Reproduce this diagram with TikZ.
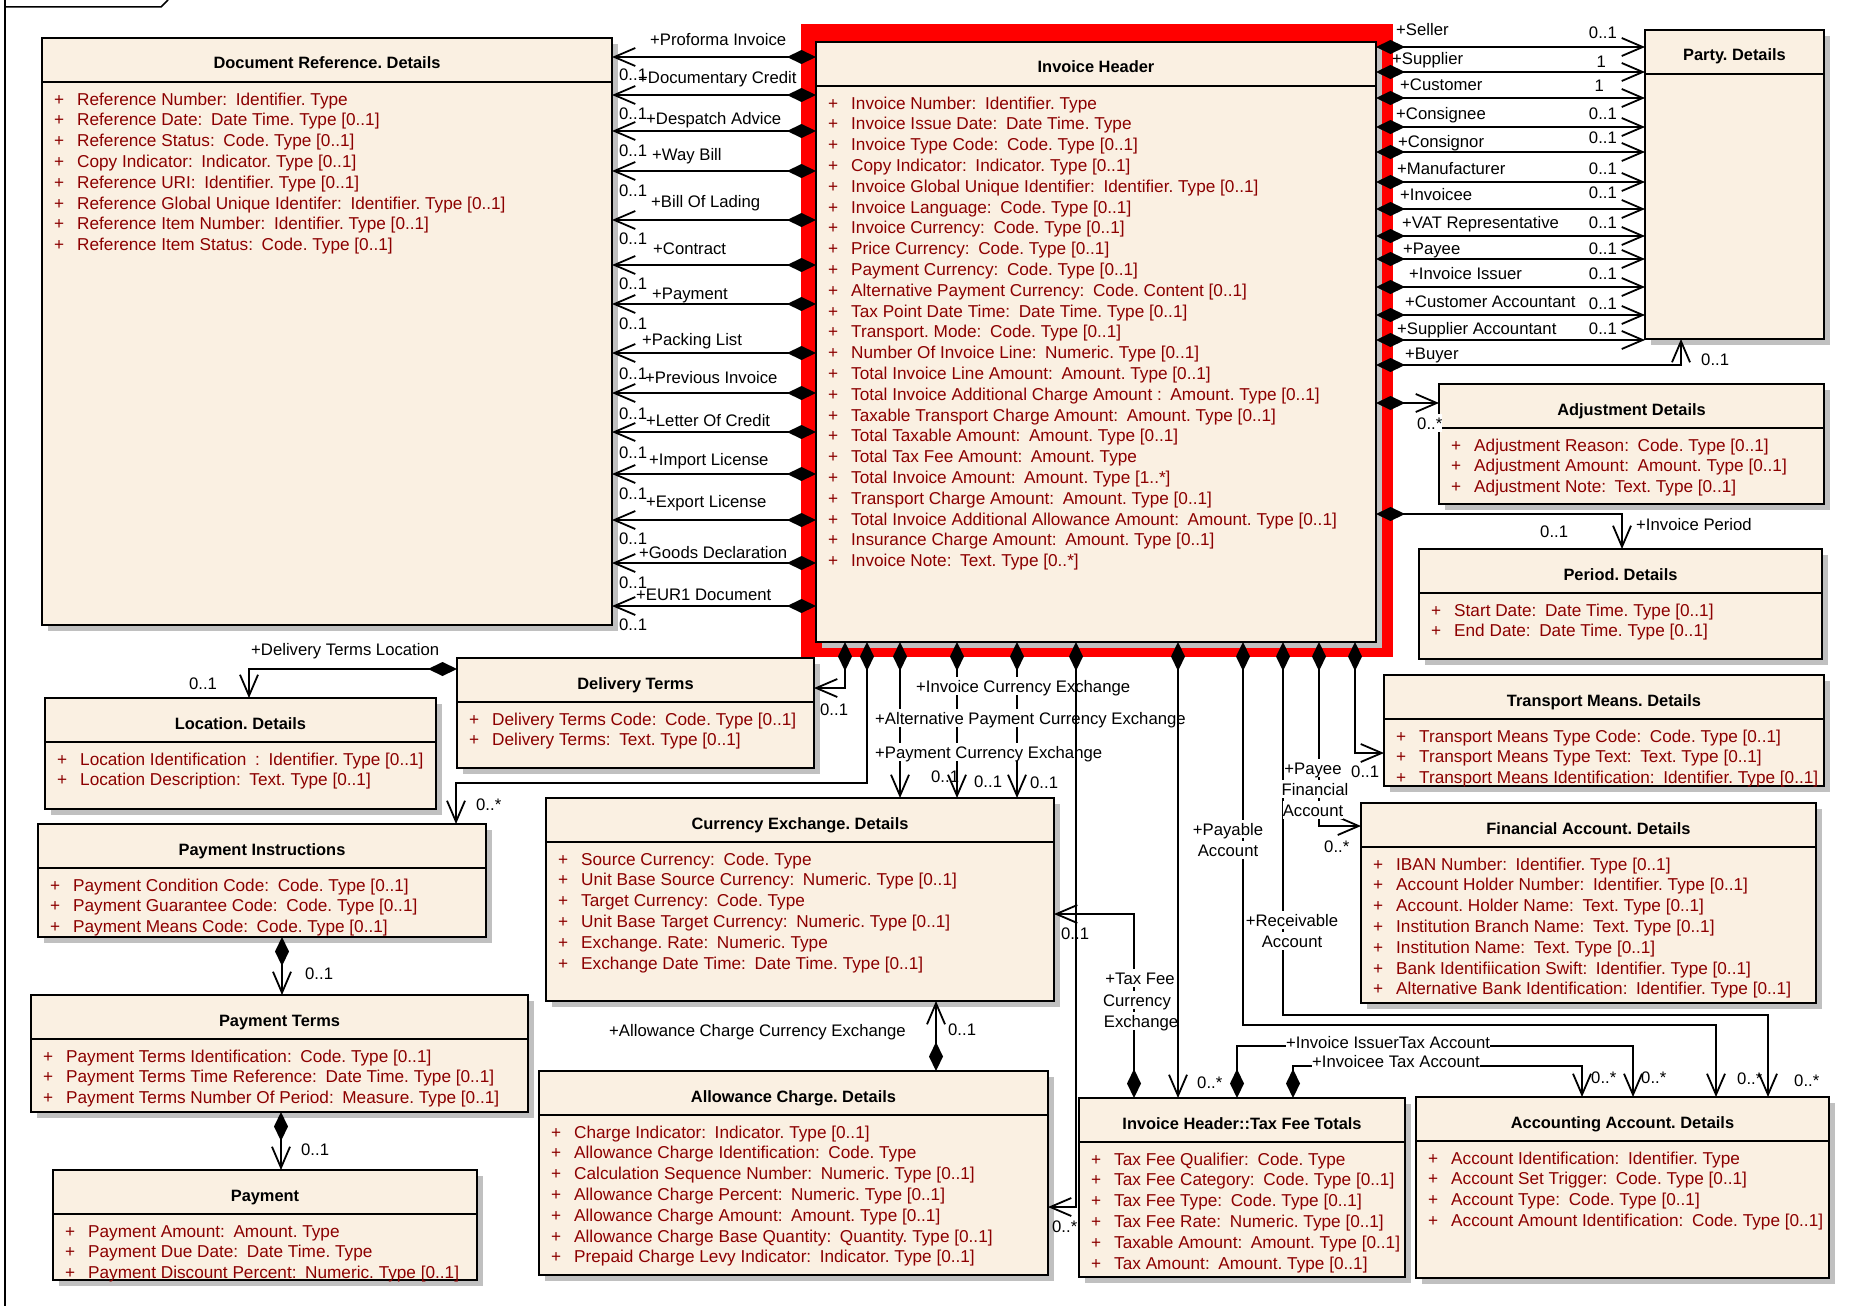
\documentclass[tikz,border=0pt]{standalone}
\usepackage{fontspec}
\setmainfont{Liberation Sans}
\usetikzlibrary{arrows.meta}

\definecolor{boxfill}{RGB}{250,240,226}
\definecolor{attrred}{RGB}{140,0,0}
\definecolor{selred}{RGB}{255,0,0}
\definecolor{shadegray}{RGB}{192,192,192}

% gap after the colon of an attribute
\newcommand\sep{\hspace{0.5em}}

\tikzset{
  boxline/.style={line width=1.8pt},
  classbox/.style={draw=black, boxline, fill=boxfill, inner sep=0pt, outer sep=0pt, anchor=north west},
  ctitle/.style={font=\fontsize{16.4}{20}\selectfont\bfseries, inner sep=0pt, text height=15pt, text depth=3pt},
  cattr/.style={font=\fontsize{17.2}{20}\selectfont, text=attrred, inner sep=0pt, anchor=base west},
  lbl/.style={font=\fontsize{16.7}{20}\selectfont, inner sep=0pt, text height=15pt, text depth=3pt},
  wlbl/.style={lbl, fill=white},
  assoc/.style={line width=1.8pt, {Diamond[length=29pt,width=14pt]}-{Straight Barb[length=21pt,width=18pt]}},
}

% class frame: name, left, top, right, bottom, title
\newcommand\umlhead[6]{%
  \fill[shadegray] (#2+6,#3+6) rectangle (#4+6,#5+6);
  \node[classbox, minimum width=#4-#2, minimum height=#5-#3] (#1) at (#2,#3) {};
  \draw[boxline] (#2,#3+44) -- (#4,#3+44);
  \node[ctitle] (#1-t) at ({(#2+#4)/2},#3+25) {#6};
}
% attribute rows: name, left, top, list
\newcommand\umlattrs[4]{%
  \foreach \a [count=\i] in {#4} {
    \node[cattr] (#1-a\i) at (#2+12,{#3+67+20.8*(\i-1)}) {\makebox[23pt][l]{+}\a};
  }
}
\newcommand\umlclass[7]{\umlhead{#1}{#2}{#3}{#4}{#5}{#6}\umlattrs{#1}{#2}{#3}{#7}}

\begin{document}
\frenchspacing
\begin{tikzpicture}[x=1pt,y=-1pt]
\useasboundingbox (0,0) rectangle (1863,1306);
\fill[white] (0,0) rectangle (1863,1306);

% package frame
\draw[line width=1.5pt] (5,1306) -- (5,0);
\draw[line width=1.5pt] (5,7) -- (161,7) -- (168,0);

% selection highlight of the header class
\fill[selred] (801,24) rectangle (1393,657);

% ---------------- classes ----------------
\umlclass{docref}{42}{38}{612}{625}{Document Reference. Details}{
  {Reference Number:\sep Identifier. Type},
  {Reference Date:\sep Date Time. Type [0..1]},
  {Reference Status:\sep Code. Type [0..1]},
  {Copy Indicator:\sep Indicator. Type [0..1]},
  {Reference URI:\sep Identifier. Type [0..1]},
  {Reference Global Unique Identifer:\sep Identifier. Type [0..1]},
  {Reference Item Number:\sep Identifier. Type [0..1]},
  {Reference Item Status:\sep Code. Type [0..1]}}

\umlclass{ih}{816}{42}{1376}{642}{Invoice Header}{
  {Invoice Number:\sep Identifier. Type},
  {Invoice Issue Date:\sep Date Time. Type},
  {Invoice Type Code:\sep Code. Type [0..1]},
  {Copy Indicator:\sep Indicator. Type [0..1]},
  {Invoice Global Unique Identifier:\sep Identifier. Type [0..1]},
  {Invoice Language:\sep Code. Type [0..1]},
  {Invoice Currency:\sep Code. Type [0..1]},
  {Price Currency:\sep Code. Type [0..1]},
  {Payment Currency:\sep Code. Type [0..1]},
  {Alternative Payment Currency:\sep Code. Content [0..1]},
  {Tax Point Date Time:\sep Date Time. Type [0..1]},
  {Transport. Mode:\sep Code. Type [0..1]},
  {Number Of Invoice Line:\sep Numeric. Type [0..1]},
  {Total Invoice Line Amount:\sep Amount. Type [0..1]},
  {Total Invoice Additional Charge Amount :\sep Amount. Type [0..1]},
  {Taxable Transport Charge Amount:\sep Amount. Type [0..1]},
  {Total Taxable Amount:\sep Amount. Type [0..1]},
  {Total Tax Fee Amount:\sep Amount. Type},
  {Total Invoice Amount:\sep Amount. Type [1..*]},
  {Transport Charge Amount:\sep Amount. Type [0..1]},
  {Total Invoice Additional Allowance Amount:\sep Amount. Type [0..1]},
  {Insurance Charge Amount:\sep Amount. Type [0..1]},
  {Invoice Note:\sep Text. Type [0..*]}}

\umlhead{party}{1645}{30}{1824}{339}{Party. Details}

\umlclass{adj}{1439}{384}{1824}{504}{Adjustment Details}{
  {Adjustment Reason:\sep Code. Type [0..1]},
  {Adjustment Amount:\sep Amount. Type [0..1]},
  {Adjustment Note:\sep Text. Type [0..1]}}

\umlclass{per}{1419}{549}{1822}{659}{Period. Details}{
  {Start Date:\sep Date Time. Type [0..1]},
  {End Date:\sep Date Time. Type [0..1]}}

\umlclass{tm}{1384}{675}{1824}{786}{Transport Means. Details}{
  {Transport Means Type Code:\sep Code. Type [0..1]},
  {Transport Means Type Text:\sep Text. Type [0..1]},
  {Transport Means Identification:\sep Identifier. Type [0..1]}}

\umlclass{fin}{1361}{803}{1816}{1003}{Financial Account. Details}{
  {IBAN Number:\sep Identifier. Type [0..1]},
  {Account Holder Number:\sep Identifier. Type [0..1]},
  {Account. Holder Name:\sep Text. Type [0..1]},
  {Institution Branch Name:\sep Text. Type [0..1]},
  {Institution Name:\sep Text. Type [0..1]},
  {Bank Identifiication Swift:\sep Identifier. Type [0..1]},
  {Alternative Bank Identification:\sep Identifier. Type [0..1]}}

\umlclass{dt}{457}{658}{814}{768}{Delivery Terms}{
  {Delivery Terms Code:\sep Code. Type [0..1]},
  {Delivery Terms:\sep Text. Type [0..1]}}

\umlclass{loc}{45}{698}{436}{809}{Location. Details}{
  {Location Identification\sep:\sep Identifier. Type [0..1]},
  {Location Description:\sep Text. Type [0..1]}}

\umlclass{payinstr}{38}{824}{486}{937}{Payment Instructions}{
  {Payment Condition Code:\sep Code. Type [0..1]},
  {Payment Guarantee Code:\sep Code. Type [0..1]},
  {Payment Means Code:\sep Code. Type [0..1]}}

\umlclass{pterms}{31}{995}{528}{1112}{Payment Terms}{
  {Payment Terms Identification:\sep Code. Type [0..1]},
  {Payment Terms Time Reference:\sep Date Time. Type [0..1]},
  {Payment Terms Number Of Period:\sep Measure. Type [0..1]}}

\umlclass{pay}{53}{1170}{477}{1280}{Payment}{
  {Payment Amount:\sep Amount. Type},
  {Payment Due Date:\sep Date Time. Type},
  {Payment Discount Percent:\sep Numeric. Type [0..1]}}

\umlclass{curx}{546}{798}{1054}{1001}{Currency Exchange. Details}{
  {Source Currency:\sep Code. Type},
  {Unit Base Source Currency:\sep Numeric. Type [0..1]},
  {Target Currency:\sep Code. Type},
  {Unit Base Target Currency:\sep Numeric. Type [0..1]},
  {Exchange. Rate:\sep Numeric. Type},
  {Exchange Date Time:\sep Date Time. Type [0..1]}}

\umlclass{allow}{539}{1071}{1048}{1275}{Allowance Charge. Details}{
  {Charge Indicator:\sep Indicator. Type [0..1]},
  {Allowance Charge Identification:\sep Code. Type},
  {Calculation Sequence Number:\sep Numeric. Type [0..1]},
  {Allowance Charge Percent:\sep Numeric. Type [0..1]},
  {Allowance Charge Amount:\sep Amount. Type [0..1]},
  {Allowance Charge Base Quantity:\sep Quantity. Type [0..1]},
  {Prepaid Charge Levy Indicator:\sep Indicator. Type [0..1]}}

\umlclass{tft}{1079}{1098}{1405}{1277}{Invoice Header::Tax Fee Totals}{
  {Tax Fee Qualifier:\sep Code. Type},
  {Tax Fee Category:\sep Code. Type [0..1]},
  {Tax Fee Type:\sep Code. Type [0..1]},
  {Tax Fee Rate:\sep Numeric. Type [0..1]},
  {Taxable Amount:\sep Amount. Type [0..1]},
  {Tax Amount:\sep Amount. Type [0..1]}}

\umlclass{acc}{1416}{1097}{1829}{1278}{Accounting Account. Details}{
  {Account Identification:\sep Identifier. Type},
  {Account Set Trigger:\sep Code. Type [0..1]},
  {Account Type:\sep Code. Type [0..1]},
  {Account Amount Identification:\sep Code. Type [0..1]}}

% ---------------- associations ----------------
% referenced documents
\foreach \yy/\lab/\lx/\ly/\my [count=\k] in {
  57/Proforma Invoice/650/40/75,
  95/Documentary Credit/638/77/113,
  131/Despatch Advice/646/118/150,
  171/Way Bill/652/154/190,
  220/Bill Of Lading/651/201/238,
  265/Contract/653/248/283,
  304/Payment/652/293/323,
  353/Packing List/642/339/373,
  393/Previous Invoice/645/377/413,
  432/Letter Of Credit/646/420/452,
  474/Import License/649/459/493,
  520/Export License/646/501/538,
  563/Goods Declaration/639/552/582,
  606/EUR1 Document/636/594/624}
{
  \coordinate (dr\k) at (0,\yy);
  \draw[assoc] (ih.west |- dr\k) -- (docref.east |- dr\k);
  \node[lbl, anchor=west] (drm\k) at (619,\my) {0..1};
  \node[lbl, anchor=west] (drr\k) at (\lx,\ly) {+\lab};
}

% parties
\foreach \yy/\lab/\lx/\ly/\mm/\mx/\my [count=\k] in {
  47/Seller/1396/30/0..1/1617/33,
  72/Supplier/1392/59/1/1606/61,
  98/Customer/1400/84/1/1604/86,
  127/Consignee/1396/113/0..1/1617/113,
  152/Consignor/1398/141/0..1/1617/137,
  182/Manufacturer/1397/168/0..1/1617/168,
  209/Invoicee/1400/194/0..1/1617/192,
  236/VAT Representative/1402/222/0..1/1617/222,
  259/Payee/1403/248/0..1/1617/248,
  287/Invoice Issuer/1409/273/0..1/1617/273,
  315/Customer Accountant/1405/301/0..1/1617/303,
  340/Supplier Accountant/1397/328/0..1/1617/328}
{
  \coordinate (py\k) at (0,\yy);
  \draw[assoc] (ih.east |- py\k) -- (party.west |- py\k);
  \node[lbl, anchor=west] (pyr\k) at (\lx,\ly) {+\lab};
  \node[lbl, anchor=east] (pym\k) at (\mx,\my) {\mm};
}
\coordinate (byr) at (1681,365);
\draw[assoc] (ih.east |- byr) -| (party.south -| byr);
\node[lbl, anchor=west] (byrr) at (1405,353) {+Buyer};
\node[lbl, anchor=west] (byrm) at (1701,359) {0..1};

% adjustment and period
\coordinate (j1) at (0,403);
\draw[assoc] (ih.east |- j1) -- (adj.west |- j1);
\node[wlbl, anchor=west] (adjm) at (1417,423) {0..*};
\coordinate (q1) at (1622,514);
\draw[assoc] (ih.east |- q1) -| (per.north -| q1);
\node[lbl, anchor=west] (perm) at (1540,531) {0..1};
\node[lbl, anchor=west] (perr) at (1636,524) {+Invoice Period};

% from the bottom of the header
\coordinate (b1) at (845,688);
\draw[assoc] (ih.south -| b1) |- (dt.east |- b1);
\coordinate (b2) at (867,783);
\coordinate (b2l) at (456,783);
\draw[assoc] (ih.south -| b2) |- (b2l) -- (payinstr.north -| b2l);
\coordinate (b3) at (900,0);
\coordinate (b4) at (957,0);
\coordinate (b5) at (1017,0);
\draw[assoc] (ih.south -| b3) -- (curx.north -| b3);
\draw[assoc] (ih.south -| b4) -- (curx.north -| b4);
\draw[assoc] (ih.south -| b5) -- (curx.north -| b5);
\coordinate (b8) at (1243,1025);
\coordinate (b8r) at (1716,1025);
\draw[assoc] (ih.south -| b8) |- (b8r) -- (acc.north -| b8r);
\coordinate (b9) at (1283,1015);
\coordinate (b9r) at (1768,1015);
\draw[assoc] (ih.south -| b9) |- (b9r) -- (acc.north -| b9r);
\coordinate (b10) at (1319,826);
\draw[assoc] (ih.south -| b10) |- (fin.west |- b10);
\coordinate (b11) at (1355,753);
\draw[assoc] (ih.south -| b11) |- (tm.west |- b11);

% tax fee totals
\coordinate (t1) at (1134,914);
\draw[assoc] (tft.north -| t1) |- (curx.east |- t1);
\coordinate (t2) at (1237,1046);
\coordinate (t2r) at (1633,1046);
\draw[assoc] (tft.north -| t2) |- (t2r) -- (acc.north -| t2r);
\coordinate (t3) at (1293,1066);
\coordinate (t3r) at (1582,1066);
\draw[assoc] (tft.north -| t3) |- (t3r) -- (acc.north -| t3r);

% allowance charge currency exchange
\coordinate (a1) at (936,0);
\draw[assoc] (allow.north -| a1) -- (curx.south -| a1);

% delivery terms location, payment chain
\coordinate (d1) at (249,669);
\draw[assoc] (dt.west |- d1) -| (loc.north -| d1);
\coordinate (p1) at (282,0);
\draw[assoc] (payinstr.south -| p1) -- (pterms.north -| p1);
\coordinate (p2) at (281,0);
\draw[assoc] (pterms.south -| p2) -- (pay.north -| p2);

% role names and multiplicities
\node[lbl, anchor=west] (b1m) at (820,709) {0..1};
\node[lbl, anchor=west] (b2m) at (476,804) {0..*};
\node[wlbl, anchor=west] (b4r) at (916,686) {+Invoice Currency Exchange};
\node[wlbl, anchor=west] (b5r) at (875,718) {+Alternative Payment Currency Exchange};
\node[wlbl, anchor=west] (b3r) at (875,752) {+Payment Currency Exchange};
\node[lbl, anchor=west] (b3m) at (931,776) {0..1};
\node[lbl, anchor=west] (b4m) at (974,781) {0..1};
\node[lbl, anchor=west] (b5m) at (1030,782) {0..1};
\node[lbl, anchor=west] (b7m) at (1197,1082) {0..*};
\node[lbl, anchor=west] (b6m) at (1052,1226) {0..*};
\node[lbl, anchor=west] (b8m) at (1737,1078) {0..*};
\node[lbl, anchor=west] (b9m) at (1794,1080) {0..*};
\node[lbl, anchor=west] (b10m) at (1324,846) {0..*};
\node[lbl, anchor=west] (b11m) at (1351,771) {0..1};
\node[wlbl] (pfa1) at (1313,768) {+Payee};
\node[wlbl] (pfa2) at (1315,789) {Financial};
\node[wlbl] (pfa3) at (1313,810) {Account};
\node[wlbl] (pya1) at (1228,829) {+Payable};
\node[wlbl] (pya2) at (1228,850) {Account};
\node[wlbl] (rca1) at (1292,920) {+Receivable};
\node[wlbl] (rca2) at (1292,941) {Account};
\node[wlbl] (tfc1) at (1140,978) {+Tax Fee};
\node[wlbl] (tfc2) at (1137,1000) {Currency};
\node[wlbl] (tfc3) at (1141,1021) {Exchange};
\node[lbl, anchor=west] (t1m) at (1061,933) {0..1};
\node[wlbl, anchor=west] (t2r-l) at (1286,1042) {+Invoice IssuerTax Account};
\node[wlbl, anchor=west] (t3r-l) at (1312,1061) {+Invoicee Tax Account};
\node[lbl, anchor=west] (t2m) at (1641,1077) {0..*};
\node[lbl, anchor=west] (t3m) at (1591,1077) {0..*};
\node[lbl, anchor=west] (a1r) at (609,1030) {+Allowance Charge Currency Exchange};
\node[lbl, anchor=west] (a1m) at (948,1029) {0..1};
\node[lbl, anchor=west] (d1r) at (251,649) {+Delivery Terms Location};
\node[lbl] (d1m) at (203,683) {0..1};
\node[lbl, anchor=west] (p1m) at (305,973) {0..1};
\node[lbl, anchor=west] (p2m) at (301,1149) {0..1};

% these two run over the labels they cross
\coordinate (b6) at (1076,1207);
\draw[assoc] (ih.south -| b6) |- (allow.east |- b6);
\coordinate (b7) at (1178,0);
\draw[assoc] (ih.south -| b7) -- (tft.north -| b7);

\end{tikzpicture}
\end{document}
